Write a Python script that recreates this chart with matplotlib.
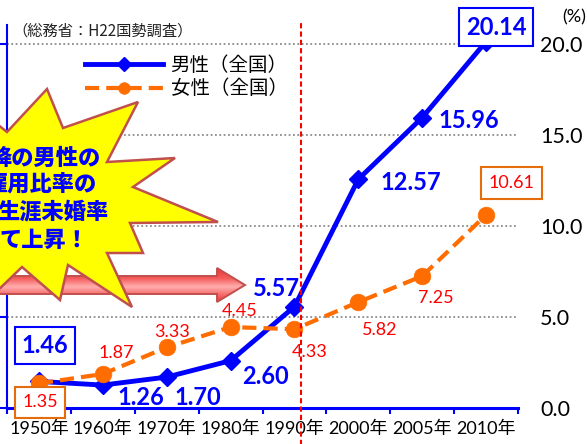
import numpy as np
import matplotlib
matplotlib.use('Agg')
import matplotlib.pyplot as plt
from matplotlib.patches import Polygon

# ---------------- data ----------------
years = ['1950年', '1960年', '1970年', '1980年', '1990年', '2000年', '2005年', '2010年']
male = [1.46, 1.26, 1.70, 2.60, 5.57, 12.57, 15.96, 20.14]
female = [1.35, 1.87, 3.33, 4.45, 4.33, 5.82, 7.25, 10.61]
yticks = [0, 5, 10, 15, 20]
ytick_labels = ['0.0', '5.0', '10.0', '15.0', '20.0']
series_names = ['男性（全国）', '女性（全国）']
source_text = '（総務省：H22国勢調査）'
unit_text = '(%)'
callout_lines = ['降の男性の', '雇用比率の', '生涯未婚率', 'て上昇！']
divider_index = 4  # 1990

# ---------------- styling ----------------
BLUE = '#0000FF'
ORANGE = '#FF6D00'
ORANGE_BOX = '#E46C0A'
RED = '#FF0000'
NUM_FONT = ['Lato', 'Noto Sans CJK JP', 'DejaVu Sans']
JP_FONT = ['Noto Sans CJK JP', 'DejaVu Sans']

W, H = 587, 444
fig = plt.figure(figsize=(W / 100, H / 100), dpi=100)
ax = fig.add_axes([7 / W, 36 / H, 511 / W, 383 / H])

x = np.arange(len(years))

ax.set_xlim(-0.5, len(years) - 0.5)
ax.set_ylim(0, 21.05)

ax.set_axisbelow(True)
ax.yaxis.grid(True, color='#8C8C8C', ls=(0, (1, 1.4)), lw=1.3)

lm, = ax.plot(x, male, color=BLUE, lw=3.5, marker='D', ms=9.5, mfc=BLUE, mec=BLUE,
              mew=1, zorder=3)
lf, = ax.plot(x, female, color=ORANGE, lw=3.0, ls=(0, (3.4, 1.7)), marker='o', ms=12,
              mfc=ORANGE, mec=ORANGE, mew=0.5, zorder=4)

# divider line
ax.axvline(divider_index + 0.1, ymin=-0.1, ymax=1.013, color=RED, lw=1.5,
           ls=(0, (2.5, 1.5)), clip_on=False, zorder=6)

# ticks / spines
ax.set_xticks(np.arange(len(years) + 1) - 0.5)
ax.set_xticklabels([])
ax.set_xticks(x, minor=True)
ax.set_xticklabels(years, minor=True)
for t in ax.get_xticklabels(minor=True):
    t.set_family(NUM_FONT)
    t.set_fontsize(13)
ax.tick_params(axis='x', which='major', direction='out', length=4.5, width=1.5, color=BLUE)
ax.tick_params(axis='x', which='minor', length=0, pad=9.5)

ax.set_yticks(yticks)
ax.set_yticklabels(ytick_labels)
ax.tick_params(axis='y', left=True, right=False, labelleft=False, labelright=True,
               direction='out', length=5, width=1.5, color=BLUE, pad=11)
for t in ax.get_yticklabels():
    t.set_family(NUM_FONT)
    t.set_fontsize(15.5)

for s in ['top', 'right']:
    ax.spines[s].set_visible(False)
ax.spines['left'].set_color(BLUE)
ax.spines['left'].set_linewidth(1.5)
ax.spines['bottom'].set_color(BLUE)
ax.spines['bottom'].set_linewidth(2.2)

# value labels (offsets in pixels, y down)
male_off = [(6, -36), (38, 12), (31, 20), (35, 16), (-18, -18), (52, 3), (47, 2.5), (10, -14.5)]
female_off = [(1, 19), (13, -21), (5, -15), (9, -16), (15, 23), (21, 28), (14, 22), (25, -32)]
male_boxed = {0, 7}
female_boxed = {0, 7}

for i, (v, (dx, dy)) in enumerate(zip(male, male_off)):
    bb = dict(boxstyle='square,pad=0.3', fc='white', ec=BLUE, lw=1.5) if i in male_boxed else None
    ax.annotate(f'{v:.2f}', (x[i], v), xytext=(dx * 0.72, -dy * 0.72), textcoords='offset points',
                ha='center', va='center', color=BLUE, fontsize=17, fontweight='bold',
                family=NUM_FONT, bbox=bb, zorder=7, annotation_clip=False)

for i, (v, (dx, dy)) in enumerate(zip(female, female_off)):
    bb = dict(boxstyle='square,pad=0.42', fc='white', ec=ORANGE_BOX, lw=1.5) if i in female_boxed else None
    ax.annotate(f'{v:.2f}', (x[i], v), xytext=(dx * 0.72, -dy * 0.72), textcoords='offset points',
                ha='center', va='center', color=RED, fontsize=13,
                family=NUM_FONT, bbox=bb, zorder=7, annotation_clip=False)

# legend
leg = ax.legend(handles=[lm, lf], labels=series_names, loc='upper left',
                bbox_to_anchor=(85 / W, 1 - 55 / H), bbox_transform=fig.transFigure,
                frameon=False, prop={'family': JP_FONT, 'size': 14},
                handlelength=4.0, handletextpad=0.4, labelspacing=0.12,
                borderpad=0, borderaxespad=0, markerscale=0.7)

# source / unit
fig.text(12 / W, 1 - 31 / H, source_text, ha='left', va='center', fontsize=11,
         family=JP_FONT, color='#222222')
fig.text(574 / W, 1 - 17 / H, unit_text, ha='center', va='center', fontsize=13,
         family=NUM_FONT, color='black')

# ---------------- overlay: arrow + starburst ----------------
ov = fig.add_axes([0, 0, 1, 1], zorder=5)
ov.set_xlim(0, W)
ov.set_ylim(H, 0)
ov.axis('off')
ov.patch.set_alpha(0)

arrow_pts = [(-5, 276), (217, 276), (217, 268), (245, 285), (217, 302), (217, 294), (-5, 294)]
arrow = Polygon(arrow_pts, closed=True, fc='none', ec='#C0504D', lw=1.4, zorder=2)
ov.add_patch(arrow)
stops = np.array([0.0, 0.3, 0.55, 0.75, 1.0])
cols = np.array([[0.93, 0.20, 0.20], [0.96, 0.36, 0.36], [1.0, 0.68, 0.68],
                 [0.97, 0.46, 0.46], [0.92, 0.22, 0.22]])
t = np.linspace(0, 1, 64)
grad = np.stack([np.interp(t, stops, cols[:, c]) for c in range(3)], axis=1)[:, None, :]
im = ov.imshow(grad, extent=(-5, 246, 302, 268), aspect='auto', zorder=1.5, origin='upper')
im.set_clip_path(Polygon(arrow_pts, closed=True, transform=ov.transData))
ov.set_xlim(0, W)
ov.set_ylim(H, 0)

star_pts = [(-8, 120), (7, 132), (47, 89), (63, 128), (138, 102), (107, 162), (175, 158),
            (133, 187), (218, 222), (130, 223), (143, 253), (107, 253), (132, 307),
            (68, 265), (60, 300), (22, 267), (-8, 296)]
ov.add_patch(Polygon(star_pts, closed=True, fc='#FFFF00', ec='#C0504D', lw=1.8, zorder=3))

line_pos = [(101, 158), (97, 185), (109, 212), (89, 240)]
for txt, (px_, py_) in zip(callout_lines, line_pos):
    ov.text(px_, py_, txt, ha='right', va='center', fontsize=16, fontweight='heavy',
            color=BLUE, family=JP_FONT, zorder=4)

fig.savefig('out.png', dpi=100)
